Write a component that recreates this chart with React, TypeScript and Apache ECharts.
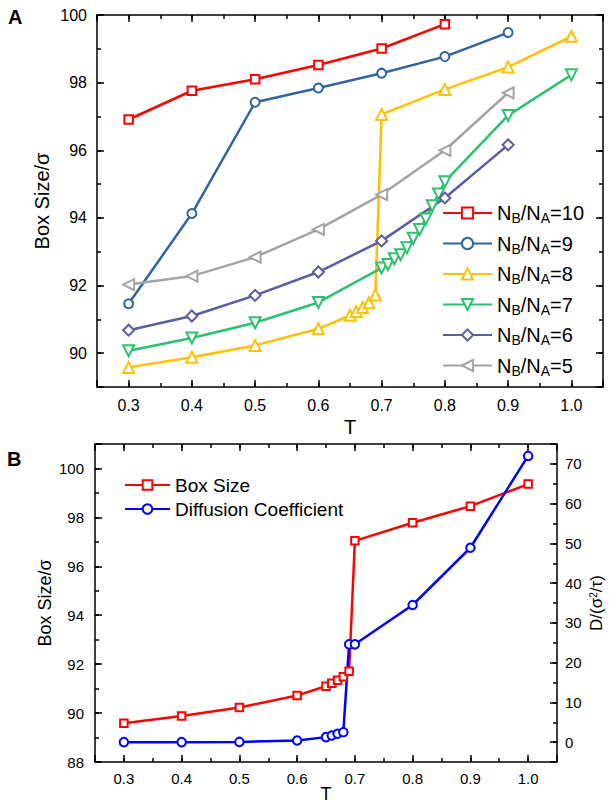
import React, { useEffect, useRef } from 'react';
import * as echarts from 'echarts';

const FONT = '"Liberation Sans", Arial, Helvetica, sans-serif';

// ---------- Panel A data ----------
const T_N10 = [0.3, 0.4, 0.5, 0.6, 0.7, 0.8];
const BOX_N10 = [96.91, 97.76, 98.1, 98.52, 99.01, 99.73];

const T_N9 = [0.3, 0.4, 0.5, 0.6, 0.7, 0.8, 0.9];
const BOX_N9 = [91.46, 94.13, 97.42, 97.84, 98.28, 98.77, 99.48];

const T_N8 = [0.3, 0.4, 0.5, 0.6, 0.65, 0.66, 0.67, 0.68, 0.69, 0.7, 0.8, 0.9, 1.0];
const BOX_N8 = [89.58, 89.88, 90.23, 90.72, 91.12, 91.23, 91.35, 91.49, 91.72, 97.06, 97.8, 98.46, 99.37];

const T_N7 = [0.3, 0.4, 0.5, 0.6, 0.7, 0.71, 0.72, 0.73, 0.74, 0.75, 0.76, 0.77, 0.78, 0.79, 0.8, 0.9, 1.0];
const BOX_N7 = [90.07, 90.45, 90.9, 91.5, 92.52, 92.62, 92.79, 92.91, 93.12, 93.4, 93.66, 93.97, 94.36, 94.71, 95.07, 97.03, 98.23];

const T_N6 = [0.3, 0.4, 0.5, 0.6, 0.7, 0.8, 0.9];
const BOX_N6 = [90.68, 91.1, 91.71, 92.4, 93.32, 94.59, 96.16];

const T_N5 = [0.3, 0.4, 0.5, 0.6, 0.7, 0.8, 0.9];
const BOX_N5 = [92.03, 92.28, 92.84, 93.66, 94.69, 96.0, 97.7];

// ---------- Panel B data ----------
const T_B = [0.3, 0.4, 0.5, 0.6, 0.65, 0.66, 0.67, 0.68, 0.69, 0.7, 0.8, 0.9, 1.0];
const BOX_B = [89.58, 89.88, 90.23, 90.72, 91.1, 91.22, 91.34, 91.48, 91.71, 97.04, 97.78, 98.46, 99.36];
const DIFF_B = [0.0, 0.0, 0.05, 0.4, 1.26, 1.67, 2.1, 2.5, 24.6, 24.6, 34.5, 48.9, 72.0];

const zip = (xs: number[], ys: number[]) => xs.map((x, i) => [x, ys[i]]);

const AXIS_COLOR = '#000';

function isMult(v: number, step: number) {
  const r = v / step;
  return Math.abs(r - Math.round(r)) < 1e-6;
}

function mainAxis(
  grid: number,
  position: string,
  min: number,
  max: number,
  major: number,
  labels: boolean,
  labelSize: number,
  margin: number,
  fmt: (v: number) => string,
  extra: any = {}
) {
  return {
    type: 'value',
    gridIndex: grid,
    position,
    min,
    max,
    splitNumber: Math.round((max - min) / major),
    minInterval: major,
    maxInterval: major,
    nameMoveOverlap: false,
    axisLine: { show: true, onZero: false, lineStyle: { color: AXIS_COLOR, width: 1.5 } },
    axisTick: { show: true, inside: true, length: 7, lineStyle: { color: AXIS_COLOR, width: 1.5 } },
    axisLabel: {
      show: labels,
      fontSize: labelSize,
      fontFamily: FONT,
      color: '#000',
      margin,
      formatter: (v: number) => (isMult(v, major) ? fmt(v) : ''),
    },
    splitLine: { show: false },
    minorTick: { show: false },
    ...extra,
  };
}

function minorAxis(grid: number, position: string, min: number, max: number, minor: number) {
  return {
    type: 'value',
    gridIndex: grid,
    position,
    min,
    max,
    interval: minor,
    axisLine: { show: false, onZero: false },
    axisTick: { show: true, inside: true, length: 4, lineStyle: { color: AXIS_COLOR, width: 1.5 } },
    axisLabel: { show: false },
    splitLine: { show: false },
  };
}

const fmtX = (v: number) => v.toFixed(1);
const fmtInt = (v: number) => String(Math.round(v));

const topLegendRich = {
  n: { fontSize: 20, fontFamily: FONT, color: '#000', lineHeight: 24 },
  s: { fontSize: 14, fontFamily: FONT, color: '#000', lineHeight: 14, padding: [10, 0, 0, 0] },
};

function lineSeries(
  name: string,
  xs: number[],
  ys: number[],
  color: string,
  symbol: string,
  size: number,
  rotate: number,
  xIdx: number,
  yIdx: number
) {
  return {
    type: 'line',
    name,
    xAxisIndex: xIdx,
    yAxisIndex: yIdx,
    data: zip(xs, ys),
    symbol,
    symbolSize: size,
    symbolRotate: rotate,
    showAllSymbol: true,
    lineStyle: { color, width: 2.5 },
    itemStyle: { color, borderColor: color, borderWidth: 1.6 },
    emphasis: { disabled: true },
    z: 3,
  };
}

export default function App() {
  const ref = useRef<HTMLDivElement>(null);

  useEffect(() => {
    if (!ref.current) return;
    const chart = echarts.init(ref.current, undefined, { renderer: 'svg' });

    const option: any = {
      animation: false,
      backgroundColor: '#fff',
      grid: [
        { left: 97, top: 15, width: 506, height: 372, containLabel: false, outerBoundsMode: 'none' },
        { left: 95, top: 444, width: 462, height: 318, containLabel: false, outerBoundsMode: 'none' },
      ],
      xAxis: [
        // grid 0: 0..3
        mainAxis(0, 'bottom', 0.25, 1.05, 0.1, true, 16, 10, fmtX, {
          name: 'T',
          nameLocation: 'middle',
          nameGap: 30,
          nameTextStyle: { fontSize: 20, fontFamily: FONT, color: '#000', lineHeight: 20 },
        }),
        minorAxis(0, 'bottom', 0.25, 1.05, 0.05),
        mainAxis(0, 'top', 0.25, 1.05, 0.1, false, 16, 10, fmtX),
        minorAxis(0, 'top', 0.25, 1.05, 0.05),
        // grid 1: 4..7
        mainAxis(1, 'bottom', 0.25, 1.05, 0.1, true, 15, 9, fmtX, {
          name: 'T',
          nameLocation: 'middle',
          nameGap: 23,
          nameTextStyle: { fontSize: 18, fontFamily: FONT, color: '#000', lineHeight: 18 },
        }),
        minorAxis(1, 'bottom', 0.25, 1.05, 0.05),
        mainAxis(1, 'top', 0.25, 1.05, 0.1, false, 15, 9, fmtX),
        minorAxis(1, 'top', 0.25, 1.05, 0.05),
      ],
      yAxis: [
        // grid 0: 0..3
        mainAxis(0, 'left', 89, 100, 2, true, 16, 10, fmtInt, {
          name: 'Box Size/σ',
          nameLocation: 'middle',
          nameGap: 45,
          nameTextStyle: { fontSize: 20, fontFamily: FONT, color: '#000' },
        }),
        minorAxis(0, 'left', 89, 100, 1),
        mainAxis(0, 'right', 89, 100, 2, false, 16, 10, fmtInt),
        minorAxis(0, 'right', 89, 100, 1),
        // grid 1: 4..7
        mainAxis(1, 'left', 88, 101, 2, true, 15, 11, fmtInt, {
          name: 'Box Size/σ',
          nameLocation: 'middle',
          nameGap: 41,
          nameTextStyle: { fontSize: 18, fontFamily: FONT, color: '#000' },
        }),
        minorAxis(1, 'left', 88, 101, 1),
        mainAxis(1, 'right', -5, 75, 10, true, 15, 8, fmtInt, {
          name: '{a|D/(σ}{b|2}{a|/τ)}',
          nameLocation: 'middle',
          nameGap: 31,
          nameTextStyle: {
            fontSize: 17,
            fontFamily: FONT,
            color: '#000',
            rich: {
              a: { fontSize: 17, fontFamily: FONT, color: '#000', lineHeight: 17 },
              b: { fontSize: 10, fontFamily: FONT, color: '#000', lineHeight: 10, padding: [0, 0, 7, 0] },
            },
          },
        }),
        minorAxis(1, 'right', -5, 75, 5),
      ],
      legend: [
        {
          orient: 'vertical',
          left: 442,
          top: 201,
          padding: 0,
          itemWidth: 49,
          itemHeight: 14,
          itemGap: 6.5,
          selectedMode: false,
          data: ['N_B/N_A=10', 'N_B/N_A=9', 'N_B/N_A=8', 'N_B/N_A=7', 'N_B/N_A=6', 'N_B/N_A=5'],
          formatter: (name: string) => {
            const m = name.split('=')[1];
            return `{n|N}{s|B}{n|/N}{s|A}{n|=${m}}`;
          },
          textStyle: { fontSize: 20, fontFamily: FONT, color: '#000', rich: topLegendRich },
        },
        {
          orient: 'vertical',
          left: 124,
          top: 474,
          padding: 0,
          itemWidth: 45,
          itemHeight: 12,
          itemGap: 2,
          selectedMode: false,
          data: ['Box Size', 'Diffusion Coefficient'],
          textStyle: { fontSize: 19, fontFamily: FONT, color: '#000', lineHeight: 22 },
        },
      ],
      graphic: [
        { type: 'text', left: 8, top: 7, style: { text: 'A', font: `bold 20px ${FONT}`, fill: '#000' } },
        { type: 'text', left: 7, top: 449, style: { text: 'B', font: `bold 20px ${FONT}`, fill: '#000' } },
      ],
      series: [
        lineSeries('N_B/N_A=10', T_N10, BOX_N10, '#FF0000', 'emptyRect', 8.5, 0, 0, 0),
        lineSeries('N_B/N_A=9', T_N9, BOX_N9, '#31659F', 'emptyCircle', 9, 0, 0, 0),
        lineSeries('N_B/N_A=8', T_N8, BOX_N8, '#FFC000', 'emptyTriangle', 11, 0, 0, 0),
        lineSeries('N_B/N_A=7', T_N7, BOX_N7, '#2EC06E', 'emptyTriangle', 11, 180, 0, 0),
        lineSeries('N_B/N_A=6', T_N6, BOX_N6, '#5B5CA3', 'emptyDiamond', 11, 0, 0, 0),
        lineSeries('N_B/N_A=5', T_N5, BOX_N5, '#A3A3A3', 'emptyTriangle', 11, 90, 0, 0),
        lineSeries('Box Size', T_B, BOX_B, '#FF0000', 'emptyRect', 7.5, 0, 4, 4),
        lineSeries('Diffusion Coefficient', T_B, DIFF_B, '#0000FF', 'emptyCircle', 8.5, 0, 4, 6),
      ],
    };

    chart.setOption(option);
    return () => chart.dispose();
  }, []);

  return (
    <div
      ref={ref}
      style={{ position: 'fixed', left: 0, top: 0, width: 609, height: 804, background: '#fff' }}
    />
  );
}
